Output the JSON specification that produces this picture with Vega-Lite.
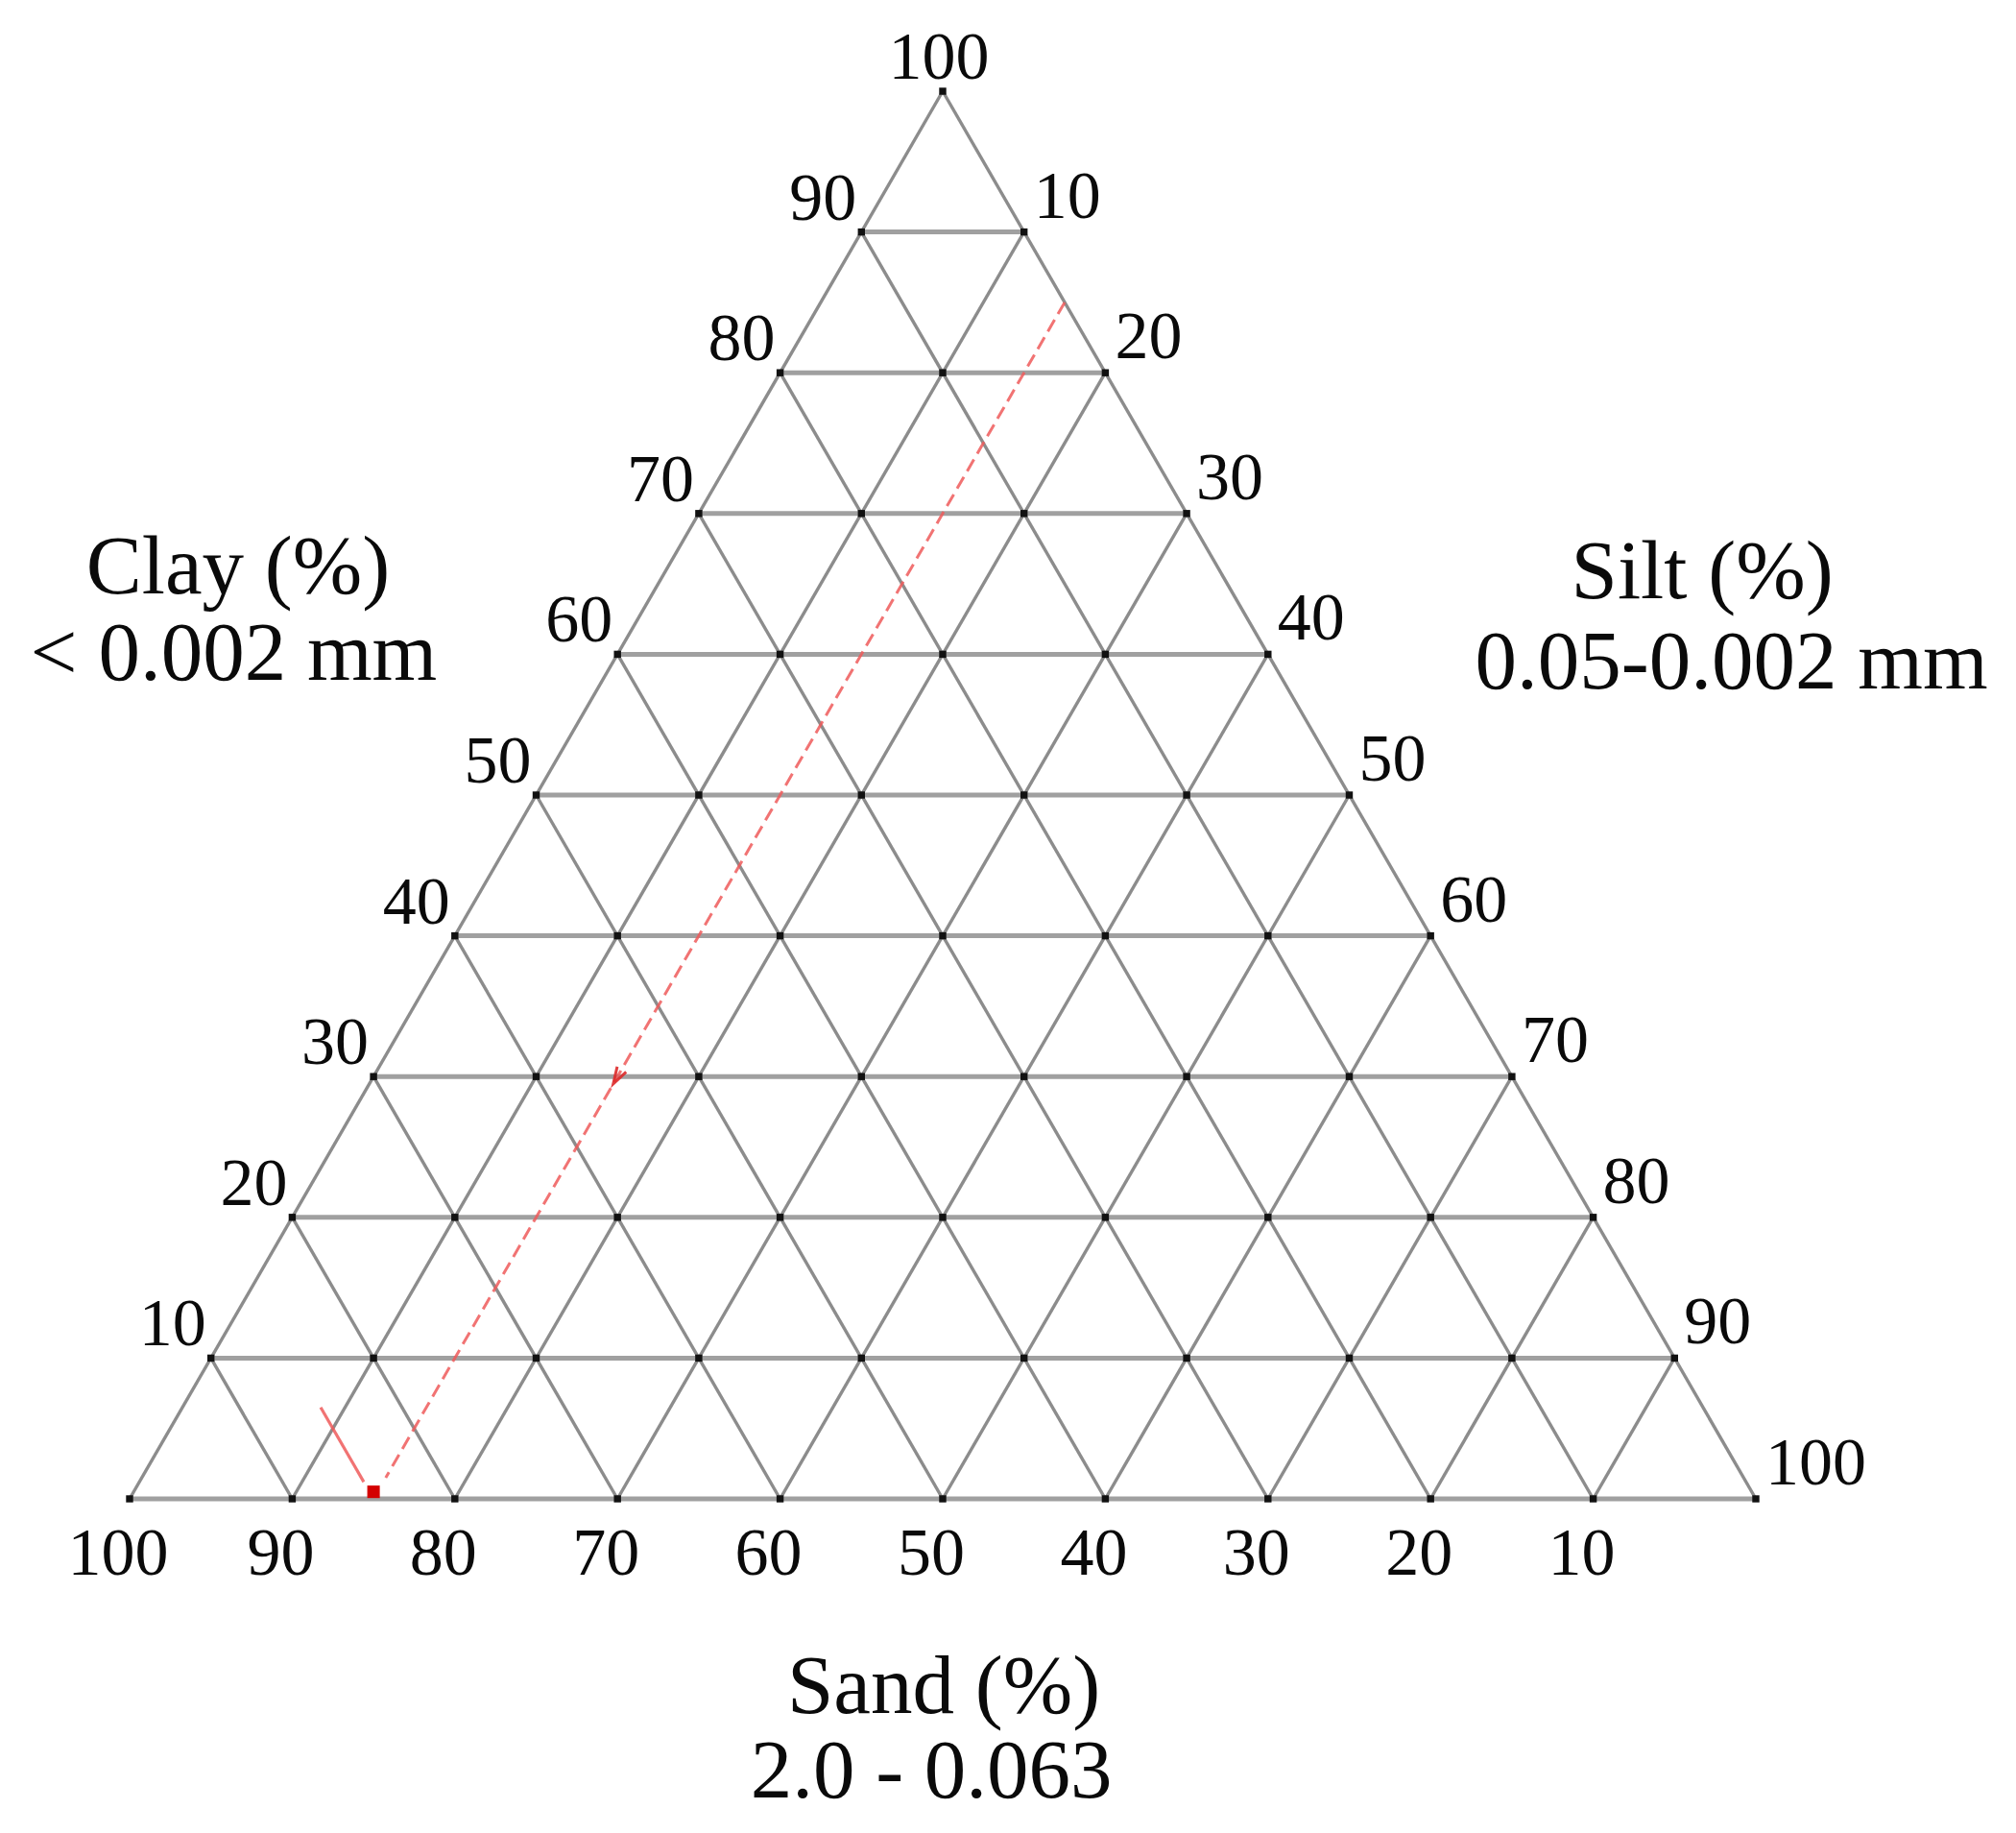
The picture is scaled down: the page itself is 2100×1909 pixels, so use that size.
{
  "$schema": "https://vega.github.io/schema/vega-lite/v6.json",
  "width": 2100,
  "height": 1909,
  "autosize": {"type": "none"},
  "padding": 0,
  "background": "white",
  "config": {"view": {"stroke": null}, "text": {"font": "Liberation Serif", "fill": "#0a0a0a"}},
  "datasets": {
    "clayLines": [
      {"x": 0, "y": 0, "x2": 100, "y2": 0},
      {"x": 5, "y": 10, "x2": 95, "y2": 10},
      {"x": 10, "y": 20, "x2": 90, "y2": 20},
      {"x": 15, "y": 30, "x2": 85, "y2": 30},
      {"x": 20, "y": 40, "x2": 80, "y2": 40},
      {"x": 25, "y": 50, "x2": 75, "y2": 50},
      {"x": 30, "y": 60, "x2": 70, "y2": 60},
      {"x": 35, "y": 70, "x2": 65, "y2": 70},
      {"x": 40, "y": 80, "x2": 60, "y2": 80},
      {"x": 45, "y": 90, "x2": 55, "y2": 90}
    ],
    "diagLines": [
      {"x": 0, "y": 0, "x2": 50, "y2": 100},
      {"x": 10, "y": 0, "x2": 55, "y2": 90},
      {"x": 20, "y": 0, "x2": 60, "y2": 80},
      {"x": 30, "y": 0, "x2": 65, "y2": 70},
      {"x": 40, "y": 0, "x2": 70, "y2": 60},
      {"x": 50, "y": 0, "x2": 75, "y2": 50},
      {"x": 60, "y": 0, "x2": 80, "y2": 40},
      {"x": 70, "y": 0, "x2": 85, "y2": 30},
      {"x": 80, "y": 0, "x2": 90, "y2": 20},
      {"x": 90, "y": 0, "x2": 95, "y2": 10},
      {"x": 100, "y": 0, "x2": 50, "y2": 100},
      {"x": 10, "y": 0, "x2": 5, "y2": 10},
      {"x": 20, "y": 0, "x2": 10, "y2": 20},
      {"x": 30, "y": 0, "x2": 15, "y2": 30},
      {"x": 40, "y": 0, "x2": 20, "y2": 40},
      {"x": 50, "y": 0, "x2": 25, "y2": 50},
      {"x": 60, "y": 0, "x2": 30, "y2": 60},
      {"x": 70, "y": 0, "x2": 35, "y2": 70},
      {"x": 80, "y": 0, "x2": 40, "y2": 80},
      {"x": 90, "y": 0, "x2": 45, "y2": 90}
    ],
    "nodes": [
      {"x": 0, "y": 0}, {"x": 10, "y": 0}, {"x": 20, "y": 0}, {"x": 30, "y": 0}, {"x": 40, "y": 0}, {"x": 50, "y": 0}, {"x": 60, "y": 0}, {"x": 70, "y": 0}, {"x": 80, "y": 0}, {"x": 90, "y": 0}, {"x": 100, "y": 0},
      {"x": 5, "y": 10}, {"x": 15, "y": 10}, {"x": 25, "y": 10}, {"x": 35, "y": 10}, {"x": 45, "y": 10}, {"x": 55, "y": 10}, {"x": 65, "y": 10}, {"x": 75, "y": 10}, {"x": 85, "y": 10}, {"x": 95, "y": 10},
      {"x": 10, "y": 20}, {"x": 20, "y": 20}, {"x": 30, "y": 20}, {"x": 40, "y": 20}, {"x": 50, "y": 20}, {"x": 60, "y": 20}, {"x": 70, "y": 20}, {"x": 80, "y": 20}, {"x": 90, "y": 20},
      {"x": 15, "y": 30}, {"x": 25, "y": 30}, {"x": 35, "y": 30}, {"x": 45, "y": 30}, {"x": 55, "y": 30}, {"x": 65, "y": 30}, {"x": 75, "y": 30}, {"x": 85, "y": 30},
      {"x": 20, "y": 40}, {"x": 30, "y": 40}, {"x": 40, "y": 40}, {"x": 50, "y": 40}, {"x": 60, "y": 40}, {"x": 70, "y": 40}, {"x": 80, "y": 40},
      {"x": 25, "y": 50}, {"x": 35, "y": 50}, {"x": 45, "y": 50}, {"x": 55, "y": 50}, {"x": 65, "y": 50}, {"x": 75, "y": 50},
      {"x": 30, "y": 60}, {"x": 40, "y": 60}, {"x": 50, "y": 60}, {"x": 60, "y": 60}, {"x": 70, "y": 60},
      {"x": 35, "y": 70}, {"x": 45, "y": 70}, {"x": 55, "y": 70}, {"x": 65, "y": 70},
      {"x": 40, "y": 80}, {"x": 50, "y": 80}, {"x": 60, "y": 80},
      {"x": 45, "y": 90}, {"x": 55, "y": 90},
      {"x": 50, "y": 100}
    ],
    "clayLabels": [
      {"label": "10", "x": 5, "y": 10}, {"label": "20", "x": 10, "y": 20}, {"label": "30", "x": 15, "y": 30},
      {"label": "40", "x": 20, "y": 40}, {"label": "50", "x": 25, "y": 50}, {"label": "60", "x": 30, "y": 60},
      {"label": "70", "x": 35, "y": 70}, {"label": "80", "x": 40, "y": 80}, {"label": "90", "x": 45, "y": 90}
    ],
    "apexLabel": [{"label": "100", "x": 50, "y": 100}],
    "siltLabels": [
      {"label": "10", "x": 55, "y": 90}, {"label": "20", "x": 60, "y": 80}, {"label": "30", "x": 65, "y": 70},
      {"label": "40", "x": 70, "y": 60}, {"label": "50", "x": 75, "y": 50}, {"label": "60", "x": 80, "y": 40},
      {"label": "70", "x": 85, "y": 30}, {"label": "80", "x": 90, "y": 20}, {"label": "90", "x": 95, "y": 10},
      {"label": "100", "x": 100, "y": 0}
    ],
    "sandLabels": [
      {"label": "100", "x": 0, "y": 0}, {"label": "90", "x": 10, "y": 0}, {"label": "80", "x": 20, "y": 0},
      {"label": "70", "x": 30, "y": 0}, {"label": "60", "x": 40, "y": 0}, {"label": "50", "x": 50, "y": 0},
      {"label": "40", "x": 60, "y": 0}, {"label": "30", "x": 70, "y": 0}, {"label": "20", "x": 80, "y": 0},
      {"label": "10", "x": 90, "y": 0}
    ],
    "readLine": [{"x": 57.5, "y": 85, "x2": 15.75, "y2": 1.5}],
    "sandTick": [{"x": 11.75, "y": 6.5, "x2": 14.4, "y2": 1.2}],
    "arrowHead": [{"x": 30, "y": 30}],
    "samplePoint": [{"x": 15, "y": 0.5}]
  },
  "layer": [
    {
      "data": {"name": "clayLines"},
      "mark": {"type": "rule", "stroke": "#a0a0a0", "strokeWidth": 5},
      "encoding": {
        "x": {"field": "x", "type": "quantitative", "scale": {"domain": [-7.969, 115.998], "nice": false, "zero": false}, "axis": null},
        "y": {"field": "y", "type": "quantitative", "scale": {"domain": [-23.738, 106.48], "nice": false, "zero": false}, "axis": null},
        "x2": {"field": "x2"},
        "y2": {"field": "y2"}
      }
    },
    {
      "data": {"name": "diagLines"},
      "mark": {"type": "rule", "stroke": "#8c8c8c", "strokeWidth": 3.4},
      "encoding": {
        "x": {"field": "x", "type": "quantitative"},
        "y": {"field": "y", "type": "quantitative"},
        "x2": {"field": "x2"},
        "y2": {"field": "y2"}
      }
    },
    {
      "data": {"name": "nodes"},
      "mark": {"type": "point", "shape": "square", "filled": true, "fill": "#111111", "size": 55, "opacity": 1},
      "encoding": {
        "x": {"field": "x", "type": "quantitative"},
        "y": {"field": "y", "type": "quantitative"}
      }
    },
    {
      "data": {"name": "readLine"},
      "mark": {"type": "rule", "stroke": "#ee5a5a", "strokeWidth": 3, "strokeDash": [14, 7], "opacity": 0.85},
      "encoding": {
        "x": {"field": "x", "type": "quantitative"},
        "y": {"field": "y", "type": "quantitative"},
        "x2": {"field": "x2"},
        "y2": {"field": "y2"}
      }
    },
    {
      "data": {"name": "sandTick"},
      "mark": {"type": "rule", "stroke": "#ee5a5a", "strokeWidth": 3.2, "opacity": 0.85},
      "encoding": {
        "x": {"field": "x", "type": "quantitative"},
        "y": {"field": "y", "type": "quantitative"},
        "x2": {"field": "x2"},
        "y2": {"field": "y2"}
      }
    },
    {
      "data": {"name": "arrowHead"},
      "mark": {"type": "point", "shape": "M -0.55 0.9 L 0 -0.9 L 0.55 0.9", "filled": false, "stroke": "#dd2a2a", "strokeWidth": 3, "size": 380, "angle": 210, "opacity": 0.9},
      "encoding": {
        "x": {"field": "x", "type": "quantitative"},
        "y": {"field": "y", "type": "quantitative"}
      }
    },
    {
      "data": {"name": "samplePoint"},
      "mark": {"type": "point", "shape": "square", "filled": true, "fill": "#d40000", "size": 170, "opacity": 1},
      "encoding": {
        "x": {"field": "x", "type": "quantitative"},
        "y": {"field": "y", "type": "quantitative"}
      }
    },
    {
      "data": {"name": "clayLabels"},
      "mark": {"type": "text", "fontSize": 70, "align": "center", "baseline": "alphabetic", "dx": -40, "dy": -13},
      "encoding": {
        "x": {"field": "x", "type": "quantitative"},
        "y": {"field": "y", "type": "quantitative"},
        "text": {"field": "label"}
      }
    },
    {
      "data": {"name": "apexLabel"},
      "mark": {"type": "text", "fontSize": 70, "align": "center", "baseline": "alphabetic", "dx": -4, "dy": -13},
      "encoding": {
        "x": {"field": "x", "type": "quantitative"},
        "y": {"field": "y", "type": "quantitative"},
        "text": {"field": "label"}
      }
    },
    {
      "data": {"name": "siltLabels"},
      "mark": {"type": "text", "fontSize": 70, "align": "left", "baseline": "alphabetic", "dx": 10, "dy": -15},
      "encoding": {
        "x": {"field": "x", "type": "quantitative"},
        "y": {"field": "y", "type": "quantitative"},
        "text": {"field": "label"}
      }
    },
    {
      "data": {"name": "sandLabels"},
      "mark": {"type": "text", "fontSize": 70, "align": "center", "baseline": "alphabetic", "dx": -12, "dy": 79},
      "encoding": {
        "x": {"field": "x", "type": "quantitative"},
        "y": {"field": "y", "type": "quantitative"},
        "text": {"field": "label"}
      }
    },
    {
      "data": {"values": [{"title": "Clay (%)"}]},
      "mark": {"type": "text", "fontSize": 87, "align": "center", "baseline": "alphabetic"},
      "encoding": {
        "x": {"datum": 6.67, "type": "quantitative"},
        "y": {"datum": 64.3, "type": "quantitative"},
        "text": {"field": "title"}
      }
    },
    {
      "data": {"values": [{"title": "< 0.002 mm"}]},
      "mark": {"type": "text", "fontSize": 87, "align": "center", "baseline": "alphabetic"},
      "encoding": {
        "x": {"datum": 6.4, "type": "quantitative"},
        "y": {"datum": 58.2, "type": "quantitative"},
        "text": {"field": "title"}
      }
    },
    {
      "data": {"values": [{"title": "Silt (%)"}]},
      "mark": {"type": "text", "fontSize": 87, "align": "center", "baseline": "alphabetic"},
      "encoding": {
        "x": {"datum": 96.7, "type": "quantitative"},
        "y": {"datum": 64.0, "type": "quantitative"},
        "text": {"field": "title"}
      }
    },
    {
      "data": {"values": [{"title": "0.05-0.002 mm"}]},
      "mark": {"type": "text", "fontSize": 87, "align": "center", "baseline": "alphabetic"},
      "encoding": {
        "x": {"datum": 98.5, "type": "quantitative"},
        "y": {"datum": 57.6, "type": "quantitative"},
        "text": {"field": "title"}
      }
    },
    {
      "data": {"values": [{"title": "Sand (%)"}]},
      "mark": {"type": "text", "fontSize": 87, "align": "center", "baseline": "alphabetic"},
      "encoding": {
        "x": {"datum": 50.06, "type": "quantitative"},
        "y": {"datum": -15.2, "type": "quantitative"},
        "text": {"field": "title"}
      }
    },
    {
      "data": {"values": [{"title": "2.0 - 0.063"}]},
      "mark": {"type": "text", "fontSize": 87, "align": "center", "baseline": "alphabetic"},
      "encoding": {
        "x": {"datum": 49.3, "type": "quantitative"},
        "y": {"datum": -21.2, "type": "quantitative"},
        "text": {"field": "title"}
      }
    }
  ]
}
